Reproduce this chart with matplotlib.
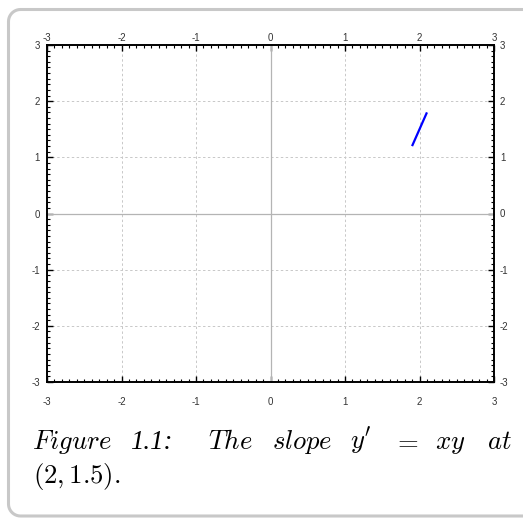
import matplotlib
matplotlib.use("Agg")
import matplotlib.pyplot as plt
import matplotlib.transforms as mtransforms
from matplotlib.lines import Line2D
from matplotlib.ticker import MultipleLocator
import numpy as np

# axis range and ticks
x_range = [-3, 3]
y_range = [-3, 3]
major_ticks = [-3, -2, -1, 0, 1, 2, 3]

# slope segment at (2, 1.5), slope xy = 3
seg_x = [1.9, 2.1]
seg_y = [1.2, 1.8]

# caption pieces (justified line) and their left edges in pixels
caption_words = [r"$\mathit{Figure}$", "1.1:", r"$\mathit{The}$",
                 r"$\mathit{slope}$", r"$y'$", r"$=$", r"$xy$", r"$\mathit{at}$"]
caption_x = [32, 130, 208, 272, 350, 393, 435, 487]
caption_line2 = r"$(2, 1.5).$"

plt.rcParams['mathtext.fontset'] = 'cm'
plt.rcParams['axes.unicode_minus'] = False
plt.rcParams['font.family'] = ['Liberation Sans', 'DejaVu Sans']

W, H = 523, 518
fig = plt.figure(figsize=(W / 100, H / 100), dpi=100)
fig.patch.set_facecolor('white')

# rounded grey frame, open on the right (pixel coords, y up)
x0, yb, yt, r = 8.5, 2.0, 508.5, 12
a_top = np.linspace(np.pi / 2, np.pi, 12)
a_bot = np.linspace(np.pi, 1.5 * np.pi, 12)
fx = np.concatenate([[W + 5], x0 + r + r * np.cos(a_top), x0 + r + r * np.cos(a_bot), [W + 5]])
fy = np.concatenate([[yt], yt - r + r * np.sin(a_top), yb + r + r * np.sin(a_bot), [yb]])
frame = Line2D(fx, fy, transform=mtransforms.IdentityTransform(),
               color='#c8c8c8', lw=2.2, solid_capstyle='butt')
fig.add_artist(frame)

ax = fig.add_axes([47 / W, 1 - 382 / H, (494 - 47) / W, (382 - 45) / H])
ax.set_xlim(x_range)
ax.set_ylim(y_range)

ax.grid(True, which='major', ls=(0, (2.5, 2.5)), color='#c8c8c8', lw=0.7)
ax.axhline(0, color='#b4b4b4', lw=0.9)
ax.axvline(0, color='#b4b4b4', lw=0.9)

ax.plot(seg_x, seg_y, color='#0000ff', lw=1.6, solid_capstyle='butt')

for s in ax.spines.values():
    s.set_linewidth(1.4)
    s.set_color('black')

lab_kw = dict(labelsize=7, labelcolor='#333333')
ax.set_xticks(major_ticks)
ax.set_yticks(major_ticks)
ax.xaxis.set_minor_locator(MultipleLocator(0.1))
ax.yaxis.set_minor_locator(MultipleLocator(0.1))
ax.tick_params(which='both', direction='in', top=True, right=True, width=1.0, color='black')
ax.tick_params(which='major', length=4.5)
ax.tick_params(which='minor', length=2.2, width=0.8)
ax.tick_params(axis='x', pad=11, **lab_kw)
ax.tick_params(axis='y', pad=5, **lab_kw)

# labels on top and right with their own padding
top = ax.secondary_xaxis('top')
top.set_xticks(major_ticks)
top.tick_params(length=0, pad=1.2, **lab_kw)
top.spines['top'].set_visible(False)
right = ax.secondary_yaxis('right')
right.set_yticks(major_ticks)
right.tick_params(length=0, pad=4.2, **lab_kw)
right.spines['right'].set_visible(False)

# caption: size the font so that "Figure" is about 80 px wide
renderer = fig.canvas.get_renderer()
probe = fig.text(0, 0, caption_words[0], fontsize=20)
width20 = probe.get_window_extent(renderer).width
probe.remove()
fs = 20 * 80 / width20

base = 1 - 449 / H
for word, px in zip(caption_words, caption_x):
    kw = {}
    if not word.startswith('$'):
        kw = dict(family='Liberation Serif', style='italic')
    fig.text(px / W, base, word, fontsize=fs, ha='left', va='baseline', **kw)
fig.text(33 / W, 1 - 483 / H, caption_line2, fontsize=fs, ha='left', va='baseline')

fig.savefig('out.png', dpi=100)
